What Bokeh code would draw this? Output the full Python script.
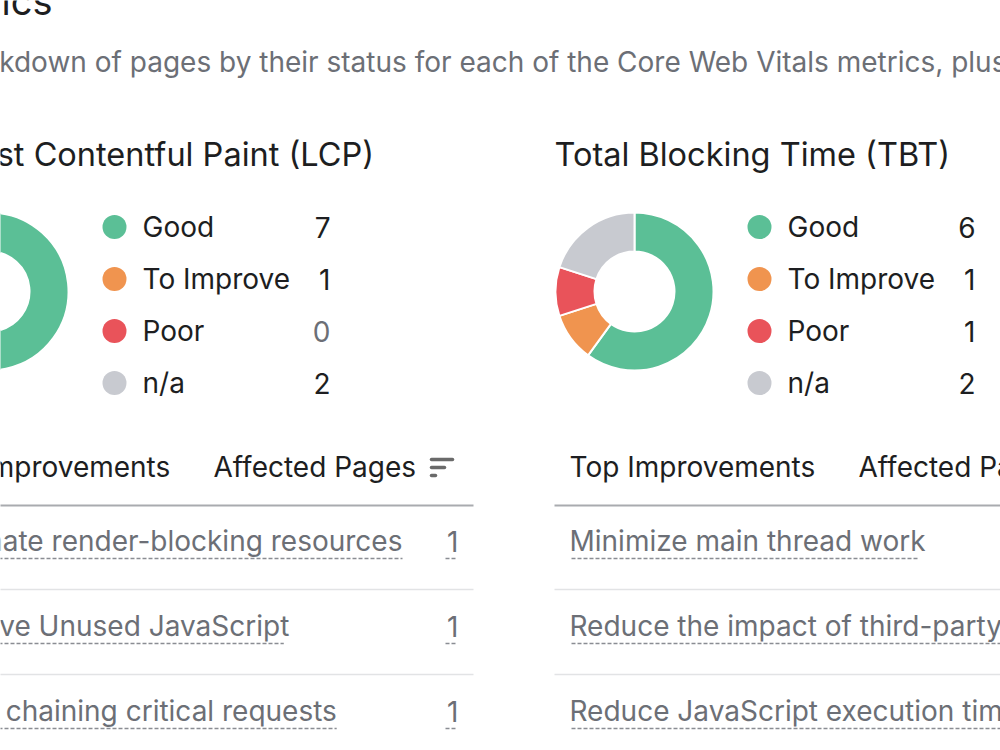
import math
from bokeh.plotting import figure
from bokeh.models import ColumnDataSource, Range1d
from bokeh.core.properties import value
from bokeh.embed import file_html
from bokeh.resources import INLINE

# ---------------- data ----------------
section_title = "Core Web Vitals Metrics"
section_subtitle = ("A breakdown of pages by their status for each of the Core Web Vitals metrics, "
                    "plus the top improvements")
statuses = ["Good", "To Improve", "Poor", "n/a"]
status_colors = ["#5bbf96", "#f0944f", "#e9535a", "#c8cad0"]
metric_titles = ["Largest Contentful Paint (LCP)", "Total Blocking Time (TBT)"]
lcp_counts = [7, 1, 0, 2]
tbt_counts = [6, 1, 1, 2]
lcp_improvements = ["Eliminate render-blocking resources",
                    "Remove Unused JavaScript",
                    "Avoid chaining critical requests"]
lcp_affected = [1, 1, 1]
tbt_improvements = ["Minimize main thread work",
                    "Reduce the impact of third-party code",
                    "Reduce JavaScript execution time"]
tbt_affected = [1, 1, 1]
table_headers = ["Top Improvements", "Affected Pages"]

# ---------------- layout / style ----------------
W, H = 1000, 750
FONT = value("Inter")
DARK = "#1d1e21"
GREY_TXT = "#6c6f76"
panel_origin = [-11, 634]          # donut centre x of each panel (px)

def Y(py):                          # pixel row -> data y
    return H - py

# approximate Inter advance widths (em) for underline lengths
_cw = {' ': .28, 'a': .56, 'b': .61, 'c': .55, 'd': .61, 'e': .57, 'f': .36, 'g': .61,
       'h': .59, 'i': .24, 'j': .24, 'k': .53, 'l': .24, 'm': .87, 'n': .59, 'o': .59,
       'p': .61, 'q': .61, 'r': .37, 's': .52, 't': .35, 'u': .59, 'v': .55, 'w': .80,
       'x': .53, 'y': .55, 'z': .53, '-': .44, '1': .42, 'J': .48, 'S': .60}
def text_width(s, size):
    return sum(_cw.get(ch, .65) for ch in s) * size

p = figure(width=W, height=H, output_backend="svg", toolbar_location=None,
           x_range=Range1d(0, W), y_range=Range1d(0, H),
           min_border=0, outline_line_color=None, background_fill_color="white",
           border_fill_color="white")
p.axis.visible = False
p.grid.visible = False

# section heading and subtitle
p.text(x=[52], y=[Y(0)], text=[section_title], text_align="right", text_baseline="middle",
       text_font=FONT, text_font_size="38px", text_color=DARK)
p.text(x=[-88], y=[Y(61)], text=[section_subtitle], text_align="left", text_baseline="middle",
       text_font=FONT, text_font_size="28px", text_color=GREY_TXT)

panels = [(metric_titles[0], lcp_counts, lcp_improvements, lcp_affected),
          (metric_titles[1], tbt_counts, tbt_improvements, tbt_affected)]

ROW_SIZE = 28
for ox, (title, counts, improvements, affected) in zip(panel_origin, panels):
    # title
    p.text(x=[ox - 80], y=[Y(154)], text=[title], text_align="left", text_baseline="middle",
           text_font=FONT, text_font_size="32.5px", text_color=DARK)

    # donut
    total = float(sum(counts))
    starts, ends, cols = [], [], []
    cum = 0.0
    for c, col in zip(counts, status_colors):
        if c > 0:
            starts.append(math.pi / 2 - 2 * math.pi * cum / total)
            cum += c
            ends.append(math.pi / 2 - 2 * math.pi * cum / total)
            cols.append(col)
    src = ColumnDataSource(dict(x=[ox] * len(starts), y=[Y(291)] * len(starts),
                                s=starts, e=ends, c=cols))
    p.annular_wedge(x="x", y="y", inner_radius=40, outer_radius=79,
                    inner_radius_units="screen", outer_radius_units="screen",
                    start_angle="s", end_angle="e", direction="clock",
                    fill_color="c", line_color="white", line_width=2, source=src)

    # legend
    ly = [Y(226.5 + 52 * i) for i in range(len(statuses))]
    p.scatter(x=[ox + 125] * len(statuses), y=ly, size=24, marker="circle",
              fill_color=status_colors, line_color=None)
    p.text(x=[ox + 153] * len(statuses), y=ly, text=statuses, text_align="left",
           text_baseline="middle", text_font=FONT, text_font_size=f"{ROW_SIZE}px",
           text_color=DARK)
    p.text(x=[ox + 341] * len(statuses), y=ly, text=[str(c) for c in counts],
           text_align="right", text_baseline="middle", text_font=FONT,
           text_font_size=f"{ROW_SIZE}px",
           text_color=[GREY_TXT if c == 0 else DARK for c in counts])

    # table header
    p.text(x=[ox - 65, ox + 224], y=[Y(466.5)] * 2, text=table_headers, text_align="left",
           text_baseline="middle", text_font=FONT, text_font_size=f"{ROW_SIZE}px",
           text_color=DARK)
    # sort icon
    p.segment(x0=[ox + 442] * 3, y0=[Y(459), Y(467), Y(475)],
              x1=[ox + 463, ox + 455, ox + 446], y1=[Y(459), Y(467), Y(475)],
              line_color="#6a6a6a", line_width=3.5, line_cap="round")
    p.segment(x0=[ox - 80], y0=[Y(505)], x1=[ox + 484], y1=[Y(505)],
              line_color="#a9abaf", line_width=2)

    # rows
    n = len(improvements)
    ry = [Y(540.5 + 85 * i) for i in range(n)]
    p.text(x=[ox - 65] * n, y=ry, text=improvements, text_align="left",
           text_baseline="middle", text_font=FONT, text_font_size=f"{ROW_SIZE}px",
           text_color=GREY_TXT)
    p.text(x=[ox + 469] * n, y=ry, text=[str(a) for a in affected], text_align="right",
           text_baseline="middle", text_font=FONT, text_font_size=f"{ROW_SIZE}px",
           text_color=GREY_TXT)
    uy = [Y(558 + 85 * i) for i in range(n)]
    p.segment(x0=[ox - 63] * n, y0=uy,
              x1=[ox - 63 + text_width(t, ROW_SIZE) for t in improvements], y1=uy,
              line_color="#8a8d93", line_width=1.5, line_dash="4 2")
    p.segment(x0=[ox + 456] * n, y0=uy,
              x1=[ox + 468] * n, y1=uy,
              line_color="#8a8d93", line_width=1.5, line_dash="4 2")
    sy = [Y(589 + 85 * i) for i in range(n - 1)]
    p.segment(x0=[ox - 80] * (n - 1), y0=sy, x1=[ox + 484] * (n - 1), y1=sy,
              line_color="#e2e3e5", line_width=1.5)

open("out.html", "w").write(file_html(p, INLINE))
